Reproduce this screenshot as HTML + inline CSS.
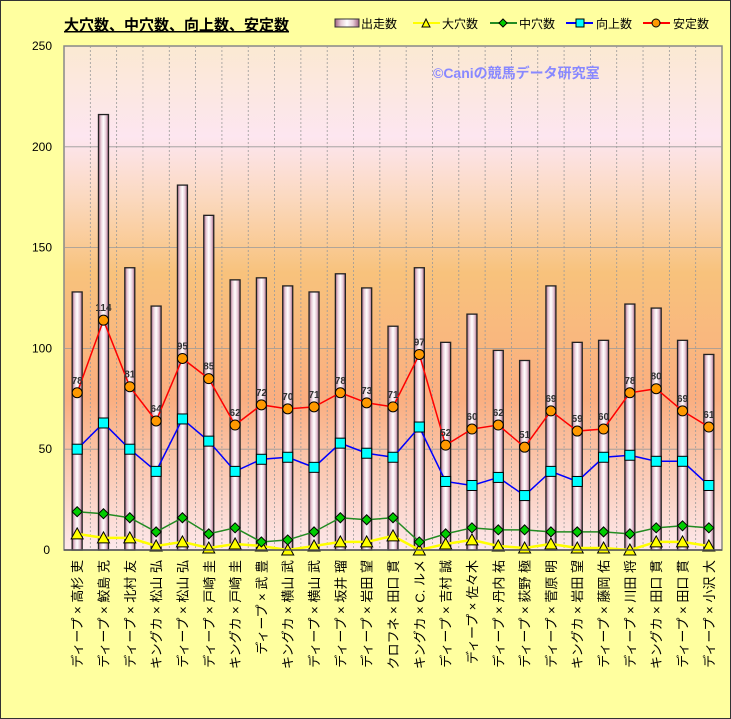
<!DOCTYPE html><html><head><meta charset="utf-8"><style>body{margin:0;background:#fff}svg{display:block}</style></head><body>
<svg id="s" width="731" height="719" xmlns="http://www.w3.org/2000/svg" font-family="Liberation Sans, Noto Sans CJK JP, sans-serif">
<defs>
<linearGradient id="bg" x1="0" y1="0" x2="0" y2="1">
<stop offset="0" stop-color="#fbe9d2"/><stop offset="0.18" stop-color="#fde6f0"/><stop offset="0.3" stop-color="#fbd9c0"/><stop offset="0.45" stop-color="#f8c27c"/><stop offset="0.7" stop-color="#faae80"/><stop offset="0.88" stop-color="#fbd0c0"/><stop offset="1" stop-color="#fde8ec"/></linearGradient>
<linearGradient id="bar" x1="0" y1="0" x2="1" y2="0">
<stop offset="0" stop-color="#a06080"/><stop offset="0.25" stop-color="#e8cdd8"/><stop offset="0.5" stop-color="#ffffff"/><stop offset="0.75" stop-color="#e8cdd8"/><stop offset="1" stop-color="#a06080"/></linearGradient>
</defs>
<rect width="731" height="719" fill="#ffff9f" stroke="#333" stroke-width="2"/>
<text x="64" y="30" font-size="15" font-weight="bold" text-decoration="underline">大穴数、中穴数、向上数、安定数</text>
<g font-size="12">
<rect x="335" y="19" width="24" height="8" fill="url(#bar)" stroke="#333"/><text x="361" y="28">出走数</text>
<line x1="413" y1="23" x2="440" y2="23" stroke="#ff0" stroke-width="2"/><polygon points="426,19 430,27 422,27" fill="#ff0" stroke="#000"/><text x="442" y="28">大穴数</text>
<line x1="490" y1="23" x2="517" y2="23" stroke="#228b22" stroke-width="2"/><polygon points="503,19 507,23 503,27 499,23" fill="#0c0" stroke="#000"/><text x="519" y="28">中穴数</text>
<line x1="566" y1="23" x2="593" y2="23" stroke="#00f" stroke-width="2"/><rect x="576" y="19" width="8" height="8" fill="#0ff" stroke="#000"/><text x="596" y="28">向上数</text>
<line x1="643" y1="23" x2="670" y2="23" stroke="#f00" stroke-width="2"/><circle cx="656" cy="23" r="4" fill="#f90" stroke="#000"/><text x="673" y="28">安定数</text>
</g>
<rect x="64" y="46" width="658" height="504" fill="url(#bg)" stroke="#888" stroke-width="1.5"/>
<g id="grid" stroke="#999" stroke-width="0.8"></g>
<text x="433" y="78" font-size="14" fill="#8888ff" font-weight="bold">©Caniの競馬データ研究室</text>
<g font-size="12" text-anchor="end" id="yl"></g>
<g id="plot"></g>
<line x1="64" y1="550" x2="722" y2="550" stroke="#555" stroke-width="1.5"/>
</svg>
<script>
const N=25,L=64,W=26.32,Y0=550,K=2.016;
const nm=["ディープ × 高杉 吏","ディープ × 鮫島 克","ディープ × 北村 友","キングカ × 松山 弘","ディープ × 松山 弘","ディープ × 戸崎 圭","キングカ × 戸崎 圭","ディープ × 武 豊","キングカ × 横山 武","ディープ × 横山 武","ディープ × 坂井 瑠","ディープ × 岩田 望","クロフネ × 田口 貫","キングカ × C. ルメ","ディープ × 吉村 誠","ディープ × 佐々木","ディープ × 丹内 祐","ディープ × 荻野 極","ディープ × 菅原 明","キングカ × 岩田 望","ディープ × 藤岡 佑","ディープ × 川田 将","キングカ × 田口 貫","ディープ × 田口 貫","ディープ × 小沢 大"];
const B=[128,216,140,121,181,166,134,135,131,128,137,130,111,140,103,117,99,94,131,103,104,122,120,104,97];
const A=[78,114,81,64,95,85,62,72,70,71,78,73,71,97,52,60,62,51,69,59,60,78,80,69,61];
const U=[50,63,50,39,65,54,39,45,46,41,53,48,46,61,34,32,36,27,39,34,46,47,44,44,32];
const M=[19,18,16,9,16,8,11,4,5,9,16,15,16,4,8,11,10,10,9,9,9,8,11,12,11];
const D=[8,6,6,2,4,1,3,2,0,2,4,4,7,0,3,5,2,1,3,1,1,0,4,4,2];
let g='',p='',yl='';
for(let i=1;i<N;i++){const x=L+W*i;g+=`<line x1="${x}" y1="46" x2="${x}" y2="550" stroke-dasharray="2,2"/>`;}
for(let v=0;v<=250;v+=50){const y=Y0-v*K;if(v>0&&v<250)g+=`<line x1="64" y1="${y}" x2="722" y2="${y}"/>`;yl+=`<text x="${v==0?50:52}" y="${y+4}">${v}</text>`;}
const cx=i=>L+W*(i+0.5),cy=v=>Y0-v*K;
B.forEach((v,i)=>{p+=`<rect x="${cx(i)-5}" y="${cy(v)}" width="10" height="${v*K}" fill="url(#bar)" stroke="#222" stroke-width="1.3"/>`;});
const line=(a,c)=>`<polyline fill="none" stroke="${c}" stroke-width="1.5" points="${a.map((v,i)=>cx(i)+','+cy(v)).join(' ')}"/>`;
p+=line(D,'#ff0').replace('1.5','2.5')+line(M,'#228b22')+line(U,'#00f')+line(A,'#f00');
D.forEach((v,i)=>{const x=cx(i),y=cy(v);p+=`<polygon points="${x},${y-6} ${x+6},${y+5} ${x-6},${y+5}" fill="#ff0" stroke="#000"/>`;});
M.forEach((v,i)=>{const x=cx(i),y=cy(v);p+=`<polygon points="${x},${y-5} ${x+5},${y} ${x},${y+5} ${x-5},${y}" fill="#0c0" stroke="#000"/>`;});
U.forEach((v,i)=>{const x=cx(i),y=cy(v);p+=`<rect x="${x-5}" y="${y-5}" width="10" height="10" fill="#0ff" stroke="#000"/>`;});
A.forEach((v,i)=>{const x=cx(i),y=cy(v);p+=`<circle cx="${x}" cy="${y}" r="5" fill="#f90" stroke="#000"/><text x="${x}" y="${y-9}" font-size="10" font-weight="bold" text-anchor="middle" fill="#333">${v}</text>`;});
nm.forEach((s,i)=>{const x=cx(i)+5;p+=`<text transform="translate(${x},560) rotate(-90)" text-anchor="end" font-size="13">${s}</text>`;});
document.getElementById('grid').innerHTML=g;document.getElementById('yl').innerHTML=yl;document.getElementById('plot').innerHTML=p;
</script>
</body></html>
